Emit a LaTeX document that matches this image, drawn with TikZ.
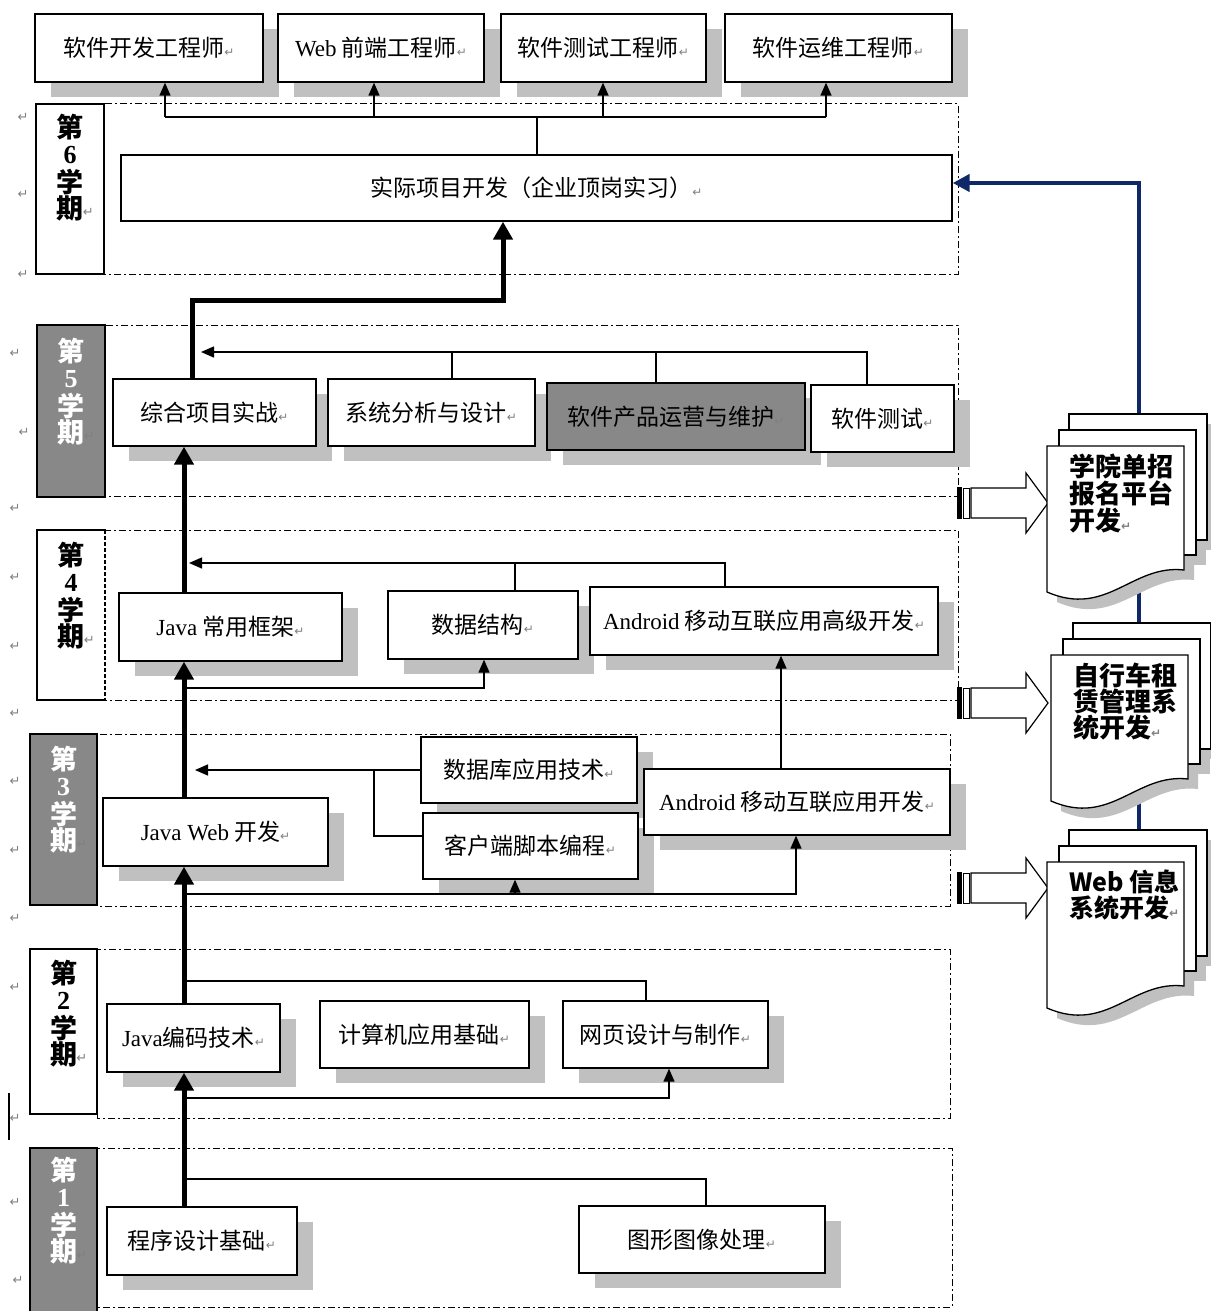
\documentclass[tikz,border=0pt]{standalone}
\usepackage{fontspec}
\setmainfont{Liberation Serif}
\newfontfamily\cjk{Noto Sans CJK SC}
\newfontfamily\djv{DejaVu Sans}
\usetikzlibrary{arrows.meta,calc}
\definecolor{shadowc}{RGB}{192,192,192}
\definecolor{labgray}{RGB}{136,136,136}
\definecolor{navy}{RGB}{14,40,104}
\newcommand{\parmark}{{\djv\fontsize{12}{12}\selectfont\color{gray}↵}}
\newcommand{\lat}{\rmfamily}
\tikzset{
  box/.style={draw=black, line width=1.4pt, fill=white, inner sep=0pt,
    font=\fontsize{23}{26}\selectfont\cjk},
  region/.style={draw=black, line width=1pt, dash pattern=on 7pt off 3pt on 2pt off 3pt},
  conn/.style={line width=1.4pt, line join=miter},
  tarrow/.style={-{Triangle[width=11pt,length=13pt]}},
  thickarrow/.style={line width=5pt, line join=miter, -{Triangle[width=19pt,length=18pt]}},
  labtext/.style={inner sep=0pt, font=\fontsize{27}{27}\selectfont\cjk\bfseries},
  labdigit/.style={inner sep=0pt, font=\fontsize{26}{26}\selectfont\lat\bfseries},
  pmark/.style={inner sep=0pt, font=\djv\fontsize{13}{13}\selectfont, text=gray},
  doctext/.style={inner sep=0pt, align=left, anchor=north west},
  blockarrow/.style={draw=black, line width=1.2pt, fill=white, line join=miter},
}
% box with shadow: [style]{name}{x1}{y1}{x2}{y2}{text}
\newcommand{\bx}[7][]{%
  \fill[shadowc] ({#3+16},{#4+15}) rectangle ({#5+16},{#6+15});
  \node[box,#1, minimum width={#5-#3}, minimum height={#6-#4}] (#2) at ({(#3+#5)/2},{(#4+#6)/2}) {#7};
}
% semester label: {name}{x1}{y1}{x2}{y2}{fill}{textcolor}{digit}{y of first char}
\newcommand{\semlab}[9]{%
  \node[draw=black, line width=1.4pt, fill=#6, inner sep=0pt, minimum width={#4-#2}, minimum height={#5-#3}] (#1) at ({(#2+#4)/2},{(#3+#5)/2}) {};
  \node[labtext, text=#7] (#1a) at ({(#2+#4)/2},#9) {第};
  \node[labdigit, text=#7] (#1b) at ({(#2+#4)/2},{#9+28}) {#8};
  \node[labtext, text=#7] (#1c) at ({(#2+#4)/2},{#9+55}) {学};
  \node[labtext, text=#7] (#1d) at ({(#2+#4)/2},{#9+81}) {期};
  \node[pmark, anchor=west] at ($(#1d.east)+(-1,4)$) {↵};
}
% multi-document: {name}{fx}{fy}{font}{text}
\newcommand{\mdoc}[5]{%
  \begin{scope}[shift={(10,10)}]
    \fill[shadowc] ({#2+22},{#3-32}) rectangle ({#2+160},{#3+94});
    \fill[shadowc] ({#2+12},{#3-16}) rectangle ({#2+149},{#3+109});
    \fill[shadowc] (#2,#3) -- ({#2+137},#3) -- ({#2+137},{#3+124}) .. controls ({#2+85},{#3+118}) and ({#2+60},{#3+172}) .. (#2,{#3+146}) -- cycle;
  \end{scope}
  \draw[line width=1.3pt, fill=white] ({#2+22},{#3-32}) rectangle ({#2+160},{#3+94});
  \draw[line width=1.3pt, fill=white] ({#2+12},{#3-16}) rectangle ({#2+149},{#3+109});
  \draw[line width=1.3pt, fill=white] (#2,#3) -- ({#2+137},#3) -- ({#2+137},{#3+124}) .. controls ({#2+85},{#3+118}) and ({#2+60},{#3+172}) .. (#2,{#3+146}) -- cycle;
  \node[doctext, font=#4] (#1) at ({#2+22},{#3+8}) {#5};
}
% striped block arrow: {y centre}
\newcommand{\barrow}[1]{%
  \fill[black] (957,{#1-16}) rectangle (962,{#1+16});
  \draw[line width=1pt, fill=white] (963.5,{#1-15}) rectangle (969.5,{#1+15});
  \draw[blockarrow] (971,{#1-15}) -- (1026,{#1-15}) -- (1026,{#1-30}) -- (1048,#1) -- (1026,{#1+30}) -- (1026,{#1+15}) -- (971,{#1+15}) -- cycle;
}
\begin{document}
\begin{tikzpicture}[x=1pt,y=-1pt]
\useasboundingbox (0,0) rectangle (1210,1311);
\fill[white] (0,0) rectangle (1210,1311);

% semester regions
\draw[region] (104,104) rectangle (958,274);
\draw[region] (105,325) rectangle (958,496);
\draw[region] (105,530) rectangle (958,700);
\draw[region] (97,734) rectangle (950,906);
\draw[region] (97,949) rectangle (950,1118);
\draw[region] (97,1148) rectangle (952,1307);

% semester labels
\semlab{s6}{36}{104}{104}{274}{white}{black}{6}{127}
\semlab{s5}{37}{325}{105}{497}{labgray}{white}{5}{351}
\semlab{s4}{37}{530}{105}{700}{white}{black}{4}{555}
\fill[white] (103,532) rectangle (108,698);
\draw[line width=1.4pt, dash pattern=on 4pt off 2pt] (105,530) -- (105,700);
\semlab{s3}{30}{734}{97}{905}{labgray}{white}{3}{759}
\semlab{s2}{30}{949}{97}{1114}{white}{black}{2}{973}
\semlab{s1}{30}{1148}{97}{1313}{labgray}{white}{1}{1170}

% top: careers
\bx{b1}{35}{14}{263}{82}{软件开发工程师\parmark}
\bx{b2}{278}{14}{484}{82}{{\lat Web} 前端工程师\parmark}
\bx{b3}{501}{14}{706}{82}{软件测试工程师\parmark}
\bx{b4}{725}{14}{952}{82}{软件运维工程师\parmark}

% semester 6
\node[box, minimum width=831, minimum height=66] (proj) at (536.5,188) {实际项目开发（企业顶岗实习）\parmark};

% semester 5
\bx{zh}{113}{379}{316}{446}{综合项目实战\parmark}
\bx{xt}{328}{379}{535}{446}{系统分析与设计\parmark}
\bx[fill=labgray]{yy}{547}{383}{805}{450}{软件产品运营与维护\parmark}
\bx{ce}{811}{385}{954}{452}{软件测试\parmark}

% semester 4
\bx{jk}{119}{593}{342}{661}{{\lat Java} 常用框架\parmark}
\bx{ds}{388}{591}{578}{659}{数据结构\parmark}
\bx{adv}{590}{587}{938}{655}{{\lat Android} 移动互联应用高级开发\parmark}

% semester 3
\bx{jw}{103}{798}{328}{866}{{\lat Java Web} 开发\parmark}
\bx{db}{421}{737}{637}{803}{数据库应用技术\parmark}
\bx{kh}{423}{813}{638}{879}{客户端脚本编程\parmark}
\bx{andr}{644}{769}{950}{835}{{\lat Android} 移动互联应用开发\parmark}

% semester 2
\bx{jb}{107}{1004}{280}{1072}{{\lat Java}编码技术\parmark}
\bx{jsj}{320}{1001}{529}{1068}{计算机应用基础\parmark}
\bx{wy}{563}{1001}{768}{1068}{网页设计与制作\parmark}

% semester 1
\bx{cx}{107}{1207}{297}{1275}{程序设计基础\parmark}
\bx{tx}{579}{1206}{825}{1273}{图形图像处理\parmark}

% connectors semester 6 -> careers
\draw[conn] (537,0 |- proj.north) -- (537,117);
\draw[conn] (165,117) -- (826,117);
\draw[conn,tarrow] (165,117) -- (165,0 |- b1.south);
\draw[conn,tarrow] (374,117) -- (374,0 |- b2.south);
\draw[conn,tarrow] (603,117) -- (603,0 |- b3.south);
\draw[conn,tarrow] (826,117) -- (826,0 |- b4.south);

% semester 5 connectors
\draw[conn] (452,0 |- xt.north) -- (452,352);
\draw[conn] (656,0 |- yy.north) -- (656,352);
\draw[conn,tarrow] (867,0 |- ce.north) -- (867,352) -- (201,352);

% semester 4 connectors
\draw[conn] (515,0 |- ds.north) -- (515,563);
\draw[conn,tarrow] (725,0 |- adv.north) -- (725,563) -- (189,563);
\draw[conn,tarrow] (184,688) -- (484,688) -- (484,0 |- ds.south);
\draw[conn,tarrow] (781,0 |- andr.north) -- (781,0 |- adv.south);

% semester 3 connectors
\draw[conn,tarrow] (db.west) -- (195,0 |- db.west);
\draw[conn] (374,0 |- db.west) -- (374,836) -- (kh.west |- 0,836);
\draw[conn,tarrow] (184,894) -- (796,894) -- (796,0 |- andr.south);
\draw[conn,tarrow] (515,894) -- (515,0 |- kh.south);

% semester 2 connectors
\draw[conn] (184,981) -- (646,981) -- (646,0 |- wy.north);
\draw[conn,tarrow] (184,1098) -- (669,1098) -- (669,0 |- wy.south);

% semester 1 connectors
\draw[conn] (184,1179) -- (706,1179) -- (706,0 |- tx.north);

% main thick path
\draw[thickarrow] (184,0 |- cx.north) -- (184,0 |- jb.south);
\draw[thickarrow] (184,0 |- jb.north) -- (184,0 |- jw.south);
\draw[thickarrow] (184,0 |- jw.north) -- (184,0 |- jk.south);
\draw[thickarrow] (184,0 |- jk.north) -- (184,0 |- zh.south);
\draw[thickarrow] (192,0 |- zh.north) -- (192,300) -- (503,300) -- (503,0 |- proj.south);

% blue feedback line
\draw[navy, line width=4.5pt, line join=miter, -{Triangle[width=17pt,length=17pt]}] (1139,840) -- (1139,183) -- (proj.east |- 0,183);

% block arrows
\barrow{503}
\barrow{703}
\barrow{888}

% project documents
\mdoc{d1}{1047}{446}{\fontsize{26}{27}\selectfont\cjk\bfseries}{学院单招\\报名平台\\开发\parmark}
\mdoc{d2}{1051}{655}{\fontsize{26}{26}\selectfont\cjk\bfseries}{自行车租\\赁管理系\\统开发\parmark}
\mdoc{d3}{1047}{862}{\fontsize{25}{24}\selectfont\cjk\bfseries}{Web 信息\\系统开发\parmark}

% paragraph marks in left margin
\foreach \mx/\my in {23/117, 23/194, 23/274, 15/353, 24/432, 15/508, 15/577, 15/646, 15/713, 15/781, 15/850, 15/918, 15/987, 15/1118, 15/1202, 18/1280}
  \node[pmark] at (\mx,\my) {↵};
\draw[line width=1.3pt] (9,1093) -- (9,1140);

\end{tikzpicture}
\end{document}
